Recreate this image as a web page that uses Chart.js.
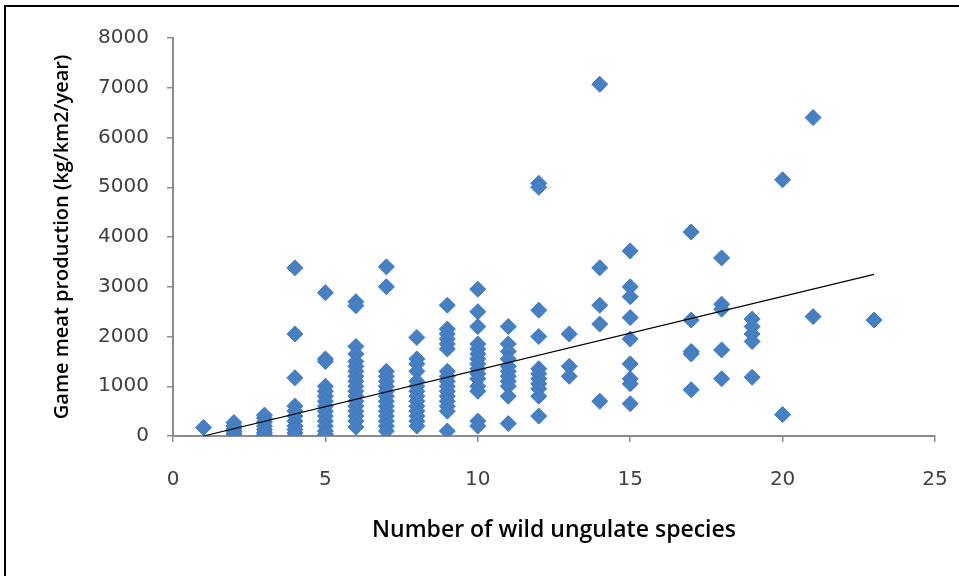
<!DOCTYPE html>
<html>
<head>
<meta charset="utf-8">
<script src="https://cdn.jsdelivr.net/npm/chart.js@4.4.0/dist/chart.umd.min.js"></script>
<style>
  html, body { margin: 0; padding: 0; background: #fff; }
  #marco { position: absolute; left: 4px; top: 5px; width: 1000px; height: 700px;
           border-left: 2px solid #000; border-top: 2px solid #000; }
  #caja { position: absolute; left: 0; top: 0; width: 959px; height: 576px; }
</style>
</head>
<body>
<div id="marco"></div>
<div id="caja"><canvas id="myChart"></canvas></div>
<script>
// numero de especies (eje x)
let especies = [1, 2, 3, 4, 5, 6, 7, 8, 9, 10, 11, 12, 13, 14, 15, 17, 18, 19, 20, 21, 23];

// produccion de carne (kg/km2/year) para cada numero de especies
let produccion = [
    [170],
    [40, 90, 140, 200, 270],
    [20, 70, 130, 200, 280, 360, 420],
    [3380, 2050, 1170, 600, 500, 400, 300, 200, 130, 60, 0],
    [2880, 1550, 1500, 1000, 900, 800, 700, 600, 500, 400, 300, 200, 100, 30],
    [2700, 2620, 1800, 1650, 1500, 1400, 1300, 1200, 1100, 1000, 900, 800, 700, 600, 500, 400, 300, 180],
    [3400, 3000, 1300, 1200, 1100, 1000, 900, 800, 700, 600, 500, 400, 300, 200, 100],
    [1980, 1550, 1450, 1300, 1100, 1000, 900, 800, 700, 600, 500, 400, 300, 200],
    [2630, 2150, 2050, 1950, 1850, 1750, 1300, 1200, 1100, 1000, 900, 800, 700, 600, 500, 100],
    [2950, 2500, 2200, 1850, 1750, 1650, 1550, 1450, 1350, 1250, 1150, 1000, 900, 300, 200],
    [2200, 1850, 1700, 1550, 1400, 1300, 1200, 1100, 1000, 800, 250],
    [5080, 5000, 2530, 2000, 1350, 1250, 1150, 1050, 950, 800, 400],
    [2050, 1400, 1200],
    [7070, 3380, 2630, 2250, 700],
    [3720, 3000, 2800, 2380, 1950, 1450, 1150, 1050, 650],
    [4100, 2330, 1700, 1650, 930],
    [3580, 2650, 2550, 1730, 1150],
    [2350, 2200, 2050, 1900, 1180],
    [5150, 430],
    [6400, 2400],
    [2330]
];

// linea de tendencia (extremos)
let tendenciaX = [1, 23];
let tendenciaY = [0, 3250];

let tituloX = 'Number of wild ungulate species';
let tituloY = 'Game meat production (kg/km2/year)';

function obtenerPuntos() {
    let datos = [];
    especies.forEach((n, i) => {
        for (let v of produccion[i]) {
            datos.push({ x: n, y: v });
        }
    });
    return datos;
}

function obtenerTendencia() {
    let datos = [];
    for (let i = 0; i < tendenciaX.length; i++) {
        datos.push({ x: tendenciaX[i], y: tendenciaY[i] });
    }
    return datos;
}

const fuenteTicks = { family: 'DejaVu Sans', size: 20 };
const fuenteTituloX = { family: 'Open Sans', size: 23, weight: '600' };
const fuenteTituloY = { family: 'Open Sans', size: 20, weight: '600' };
const gris = '#8c8c8c';

const ctx = document.getElementById('myChart').getContext('2d');
new Chart(ctx, {
    type: 'scatter',
    data: {
        datasets: [{
            label: 'datos',
            data: obtenerPuntos(),
            pointStyle: 'rectRot',
            pointRadius: 8,
            pointBackgroundColor: '#457FC4',
            pointBorderColor: '#3F78BC',
            pointBorderWidth: 1,
            order: 2
        }, {
            label: 'tendencia',
            type: 'line',
            data: obtenerTendencia(),
            borderColor: '#000',
            borderWidth: 1.2,
            pointRadius: 0,
            fill: false,
            order: 1
        }]
    },
    options: {
        responsive: true,
        maintainAspectRatio: false,
        animation: false,
        events: [],
        layout: { padding: { left: 0, top: 38, right: 24, bottom: 0 } },
        plugins: { legend: { display: false }, tooltip: { enabled: false } },
        scales: {
            x: {
                type: 'linear',
                min: 0, max: 25,
                ticks: { stepSize: 5, color: '#404040', font: fuenteTicks, padding: 26 },
                grid: { drawOnChartArea: false, color: gris, tickLength: 6, lineWidth: 1.5 },
                border: { color: gris, width: 2 },
                title: { display: true, text: tituloX, color: '#000', font: fuenteTituloX,
                         padding: { top: 0, bottom: 32 } },
                afterFit: (escala) => {
                    escala.height = 140;
                    escala.paddingLeft = 0;
                    escala.paddingRight = 0;
                }
            },
            y: {
                min: 0, max: 8000,
                ticks: { stepSize: 1000, color: '#404040', font: fuenteTicks, padding: 18,
                         callback: (valor) => String(valor) },
                grid: { drawOnChartArea: false, color: gris, tickLength: 6, lineWidth: 1.5 },
                border: { color: gris, width: 2 },
                title: { display: true, text: tituloY, color: '#000', font: fuenteTituloY,
                         padding: { top: 50, bottom: 0 } },
                afterFit: (escala) => { escala.width = 173; }
            }
        }
    }
});
</script>
</body>
</html>
